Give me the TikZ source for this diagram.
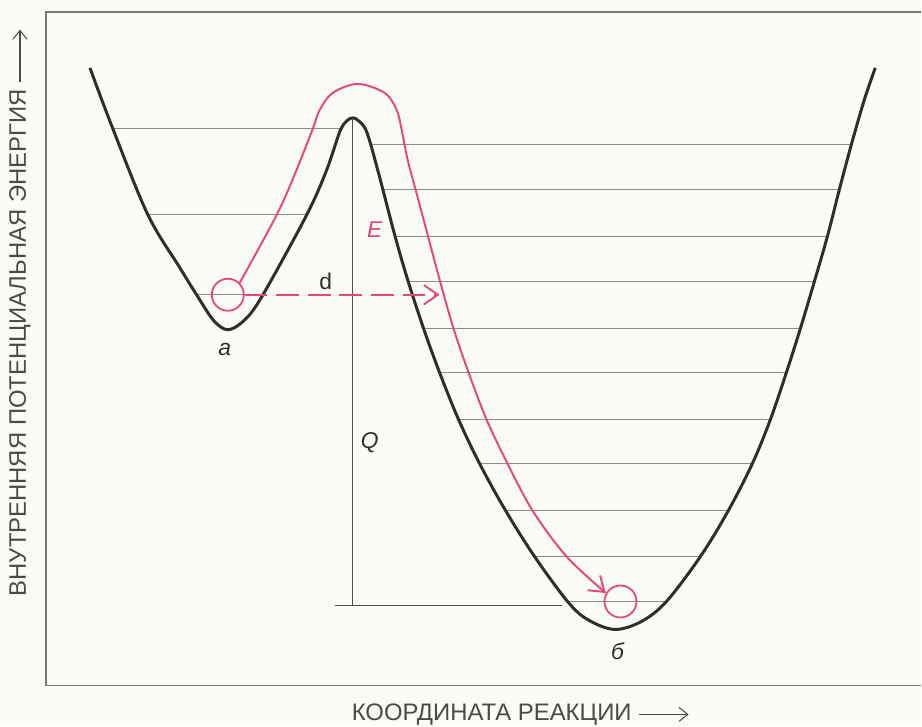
\documentclass[tikz,border=0pt]{standalone}
\usepackage{fontspec}
\setmainfont{Liberation Sans}
\usetikzlibrary{arrows.meta,positioning}
\definecolor{PaperCream}{HTML}{FCFCF6}
\definecolor{CurveInk}{HTML}{2E2E2E}
\definecolor{LevelGray}{HTML}{8C8C8C}
\definecolor{PathPink}{HTML}{E8457C}
\definecolor{LabelInk}{HTML}{4A4A4A}
\definecolor{FrameGray}{HTML}{7A7A7A}
% potential energy profile, shared by the outline and the level clip
\newcommand{\wellprofile}{plot[smooth,tension=.55] coordinates {
  (90,659) (113,598) (148,512) (180,459) (198,430) (214,406) (228,397)
  (244,406) (262,430) (307,512) (327,557) (340,595) (347,606) (353,609)
  (359,606) (367,595) (378,557) (395,492) (408,447) (424,398) (440,354)
  (459,307) (480,263) (506,216) (535,170) (568,125) (588,107) (615,97)
  (642,105) (667,125) (701,170) (729,216) (753,263) (771,307) (787,354)
  (801,398) (815,445) (828,490) (840,537) (852,582) (865,627) (876,659)}}

\begin{document}
\begin{tikzpicture}[
  x=.02cm,y=.02cm,
  every node/.style={text=LabelInk},
  curve/.style={draw=CurveInk,line width=1.7pt,line join=round},
  level/.style={draw=LevelGray,line width=.45pt},
  guide/.style={draw=CurveInk!85,line width=.7pt},
  route/.style={draw=PathPink,line width=1.1pt,
    -{Straight Barb[length=8pt,width=11pt,line width=1.1pt]}},
  tunnel/.style={route,dash pattern=on 13pt off 5pt},
  ball/.style={circle,draw=PathPink,line width=1pt,minimum size=.64cm,
    inner sep=0pt},
  axislabel/.style={font=\fontsize{13.6}{15}\selectfont,inner sep=1pt},
  axisarrow/.style={draw=LabelInk,line width=.6pt,
    -{Straight Barb[length=5pt,width=8pt]}},
  statelabel/.style={font=\fontsize{13}{15}\selectfont\itshape,text=CurveInk},
  tag/.style={font=\fontsize{13}{15}\selectfont,text=CurveInk}
]
\fill[PaperCream] (0,0) rectangle (922,727);
\draw[FrameGray,line width=.9pt] (922,715) -- (46,715) -- (46,41) -- (922,41);
% vibrational levels, clipped to the inside of both wells
\begin{scope}
  \clip \wellprofile -- cycle;
  \foreach \lv in {598,512,432}
    \draw[level] (60,\lv) -- (352,\lv);
  \foreach \lv in {582,537,490,445,398,354,307,263,216,170,125}
    \draw[level] (352,\lv) -- (900,\lv);
\end{scope}
\draw[curve] \wellprofile;
% reaction heat Q
\coordinate (peak) at (353,609);
\coordinate (qfoot) at (353,121);
\coordinate (qleft) at (335,121);
\coordinate (qright) at (562,121);
\draw[guide] (peak) -- (qfoot);
\draw[guide] (qleft) -- (qright);
\node[statelabel] (qlab) at (370,284) {Q};
% initial and final states
\node[ball] (ballA) at (228,432) {};
\node[ball] (ballB) at (621,125) {};
\node[statelabel] (alab) at (225,377) {a};
\node[statelabel] (blab) at (618,75) {б};
% over-the-barrier route and tunnelling shortcut
\draw[route] plot[smooth,tension=.55] coordinates {(ballA.45) (277,512)
  (296,555) (313,598) (320,617) (333,634) (358,643) (385,634) (397,617)
  (402,597) (408,567) (416,537) (428,492) (440,447) (454,398) (469,354)
  (487,307) (508,263) (533,216) (567,170) (ballB.150)};
\node[statelabel,text=PathPink] (elab) at (375,497) {E};
\coordinate (dtip) at (440,432);
\draw[tunnel] (ballA.east) -- (dtip);
\node[tag] (dlab) at (326,445) {d};
% axes
\node[axislabel,rotate=90] (ylab) at (20,384)
  {ВНУТРЕННЯЯ ПОТЕНЦИАЛЬНАЯ ЭНЕРГИЯ};
\coordinate (ytip) at ([yshift=1.15cm]ylab.east);
\draw[axisarrow] ([yshift=3pt]ylab.east) -- (ytip);
\node[axislabel,anchor=west] (xlab) at (350,12) {КООРДИНАТА РЕАКЦИИ};
\coordinate[right=1.1cm of xlab] (xtip);
\draw[axisarrow] ([xshift=3pt]xlab.east) -- (xtip);
\end{tikzpicture}
\end{document}
